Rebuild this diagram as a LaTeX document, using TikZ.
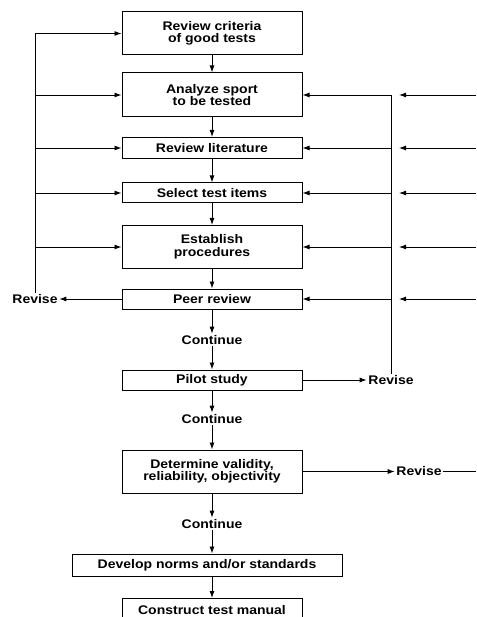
\documentclass[tikz,border=0pt]{standalone}
\usepackage{fontspec}
\setmainfont{Liberation Sans}[FakeStretch=1.12]
\usetikzlibrary{arrows.meta}
\begin{document}
\begin{tikzpicture}[x=1pt,y=-1pt,
  txt/.style={font=\bfseries\fontsize{12.5}{12.5}\selectfont},
  box/.style={txt, draw, line width=1pt, minimum width=180pt, inner sep=0pt, align=center},
  lbl/.style={txt, inner sep=1.5pt},
  arr/.style={-{Latex[length=7pt,width=5pt]}, line width=0.9pt},
  ln/.style={line width=0.9pt}]
\useasboundingbox (0,0) rectangle (476,617);
\coordinate (redge) at (476,0);
% boxes
\node[box, minimum height=43pt] (b1) at (212,33.5) {Review criteria\\of good tests};
\node[box, minimum height=44pt] (b2) at (212,95) {Analyze sport\\to be tested};
\node[box, minimum height=21pt] (b3) at (212,148) {Review literature};
\node[box, minimum height=20pt] (b4) at (212,193) {Select test items};
\node[box, minimum height=43pt] (b5) at (212,247) {Establish\\procedures};
\node[box, minimum height=20pt] (b6) at (212,299) {Peer review};
\node[lbl] (c1) at (212,340) {Continue};
\node[box, minimum height=20pt] (b7) at (212,380) {Pilot study};
\node[lbl] (c2) at (212,419) {Continue};
\node[box, minimum height=43pt] (b8) at (212,471.5) {Determine validity,\\reliability, objectivity};
\node[lbl] (c3) at (212,524) {Continue};
\node[box, minimum height=22pt, minimum width=270pt] (b9) at (207,565) {Develop norms and/or standards};
\node[box, anchor=north, minimum height=0pt, text height=9pt, text depth=30pt, inner ysep=7pt] (b10) at (212,598) {Construct test manual};
% revise labels
\node[lbl] (rl) at (35,299) {Revise};
\node[lbl] (rr) at (391,380) {Revise};
\node[lbl] (rd) at (419,471.5) {Revise};
% main flow
\draw[arr] (b1) -- (b2);
\draw[arr] (b2) -- (b3);
\draw[arr] (b3) -- (b4);
\draw[arr] (b4) -- (b5);
\draw[arr] (b5) -- (b6);
\draw[arr] (b6) -- (c1);
\draw[arr] (c1) -- (b7);
\draw[arr] (b7) -- (c2);
\draw[arr] (c2) -- (b8);
\draw[arr] (b8) -- (c3);
\draw[arr] (c3.south) -- (c3.south |- b9.north);
\draw[arr] (b10.north |- b9.south) -- (b10.north);
% left feedback
\draw[arr] (b6.west) -- (rl.east |- b6.west);
\draw[arr] (rl.north) |- (b1.west);
\foreach \b in {b2,b3,b4,b5}
  \draw[arr] (rl.north |- \b.west) -- (\b.west);
% right feedback
\draw[arr] (b7.east) -- (rr.west |- b7.east);
\draw[arr] (rr.north) |- (b2.east);
\foreach \b in {b3,b4,b5,b6}
  \draw[arr] (rr.north |- \b.east) -- (\b.east);
% far right feedback (from beyond the picture)
\foreach \b in {b2,b3,b4,b5,b6}
  \draw[arr] (redge |- \b.east) -- ([xshift=8pt]rr.north |- \b.east);
\draw[arr] (b8.east) -- (rd.west |- b8.east);
\draw[ln] (rd.east |- b8.east) -- (redge |- b8.east);
\end{tikzpicture}
\end{document}
